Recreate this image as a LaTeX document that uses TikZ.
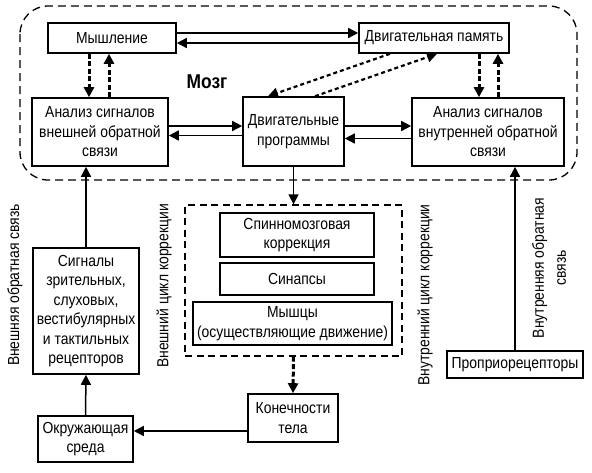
\documentclass[tikz,border=0pt]{standalone}
\usepackage{fontspec}
\setmainfont{Liberation Sans}[FakeStretch=0.87]
\usetikzlibrary{arrows.meta}
\begin{document}
\begin{tikzpicture}[x=1pt,y=-1pt,
  every node/.style={font=\fontsize{16}{19.5}\selectfont},
  box/.style={draw, line width=1.6pt, align=center, inner sep=0pt},
  arr/.style={line width=1.5pt, -{Triangle[length=10pt,width=10pt]}},
  darr/.style={line width=3pt, dash pattern=on 5pt off 2.5pt, -{Triangle[length=10pt,width=10pt]}},
  diag/.style={line width=2.2pt, dash pattern=on 4pt off 3pt, -{Triangle[length=10pt,width=10pt]}},
  rlabel/.style={rotate=90, align=center, inner sep=0pt}]
\useasboundingbox (0,0) rectangle (592,472);
% brain region
\draw[line width=1.3pt, dash pattern=on 8pt off 5pt, rounded corners=28pt] (20,6) rectangle (577,180);
\node[font=\fontsize{20}{24}\selectfont\bfseries] (brain) at (207,82) {Мозг};
% boxes
\node[box, minimum width=128pt, minimum height=30pt] (mysh) at (112,38) {Мышление};
\node[box, minimum width=150pt, minimum height=30pt] (pam) at (434,38) {Двигательная память};
\node[box, minimum width=136pt, minimum height=68pt] (ext) at (100,132) {Анализ сигналов\\внешней обратной\\связи};
\node[box, minimum width=101pt, minimum height=69pt] (prog) at (293.5,131.5) {Двигательные\\программы};
\node[box, minimum width=152pt, minimum height=68pt] (int) at (488,132) {Анализ сигналов\\внутренней обратной\\связи};
\node[draw, line width=1.3pt, dash pattern=on 7pt off 4.5pt, minimum width=217pt, minimum height=151pt, inner sep=0pt] (corr) at (293.5,280.5) {};
\node[box, minimum width=154pt, minimum height=44pt] (spin) at (297,235) {Спинномозговая\\коррекция};
\node[box, minimum width=154pt, minimum height=32pt] (syn) at (297,279) {Синапсы};
\node[box, minimum width=199pt, minimum height=43pt] (mus) at (292.5,323.5) {Мышцы\\(осуществляющие движение)};
\node[box, minimum width=90pt, minimum height=48pt] (limb) at (293,418) {Конечности\\тела};
\node[box, minimum width=95pt, minimum height=46pt] (env) at (85.5,439) {Окружающая\\среда};
\node[box, minimum width=106pt, minimum height=126pt] (sig) at (86,311) {Сигналы\\зрительных,\\слуховых,\\вестибулярных\\и тактильных\\рецепторов};
\node[box, minimum width=136pt, minimum height=27pt] (prop) at (515,364.5) {Проприорецепторы};
% rotated labels
\node[rlabel] (lext) at (15,285) {Внешняя обратная связь};
\node[rlabel] (lcext) at (164,286) {Внешний цикл коррекции};
\node[rlabel] (lcint) at (425,295) {Внутренний цикл коррекции};
\node[rlabel, font=\fontsize{16}{22}\selectfont] (lint) at (549,268) {Внутренняя обратная\\связь};
% connectors in brain
\draw[arr] ([yshift=5pt]mysh.east) -- ([yshift=5pt]mysh.east -| pam.west);
\draw[arr] ([yshift=-5pt]pam.west) -- ([yshift=-5pt]pam.west -| mysh.east);
\draw[arr] ([yshift=6pt]ext.east) -- ([yshift=6pt]ext.east -| prog.west);
\draw[arr] ([yshift=-4pt]prog.west) -- ([yshift=-4pt]prog.west -| ext.east);
\draw[arr] ([yshift=5.5pt]prog.east) -- ([yshift=5.5pt]prog.east -| int.west);
\draw[arr] ([yshift=-6.5pt]int.west) -- ([yshift=-6.5pt]int.west -| prog.east);
\draw[darr] ([xshift=-23pt]mysh.south) -- ([xshift=-23pt]mysh.south |- ext.north);
\draw[darr] ([xshift=-3pt]mysh.south |- ext.north) -- ([xshift=-3pt]mysh.south);
\draw[darr] ([xshift=45pt]pam.south) -- ([xshift=45pt]pam.south |- int.north);
\draw[darr] ([xshift=64pt]pam.south |- int.north) -- ([xshift=64pt]pam.south);
\draw[diag] ([xshift=-44pt]pam.south) -- ([xshift=-25.5pt]prog.north);
\draw[diag] ([xshift=21.5pt]prog.north) -- ([xshift=3pt]pam.south);
% lower connectors
\draw[arr] (prog.south) -- (prog.south |- corr.north);
\draw[darr] (corr.south) -- (limb.north);
\draw[arr] ([yshift=-13pt]limb.west) -- ([yshift=-13pt]limb.west -| env.east);
\draw[arr] (env.north) -- (sig.south);
\draw[arr] (sig.north) -- (sig.north |- ext.south);
\draw[arr] (prop.north) -- (prop.north |- int.south);
\end{tikzpicture}
\end{document}
